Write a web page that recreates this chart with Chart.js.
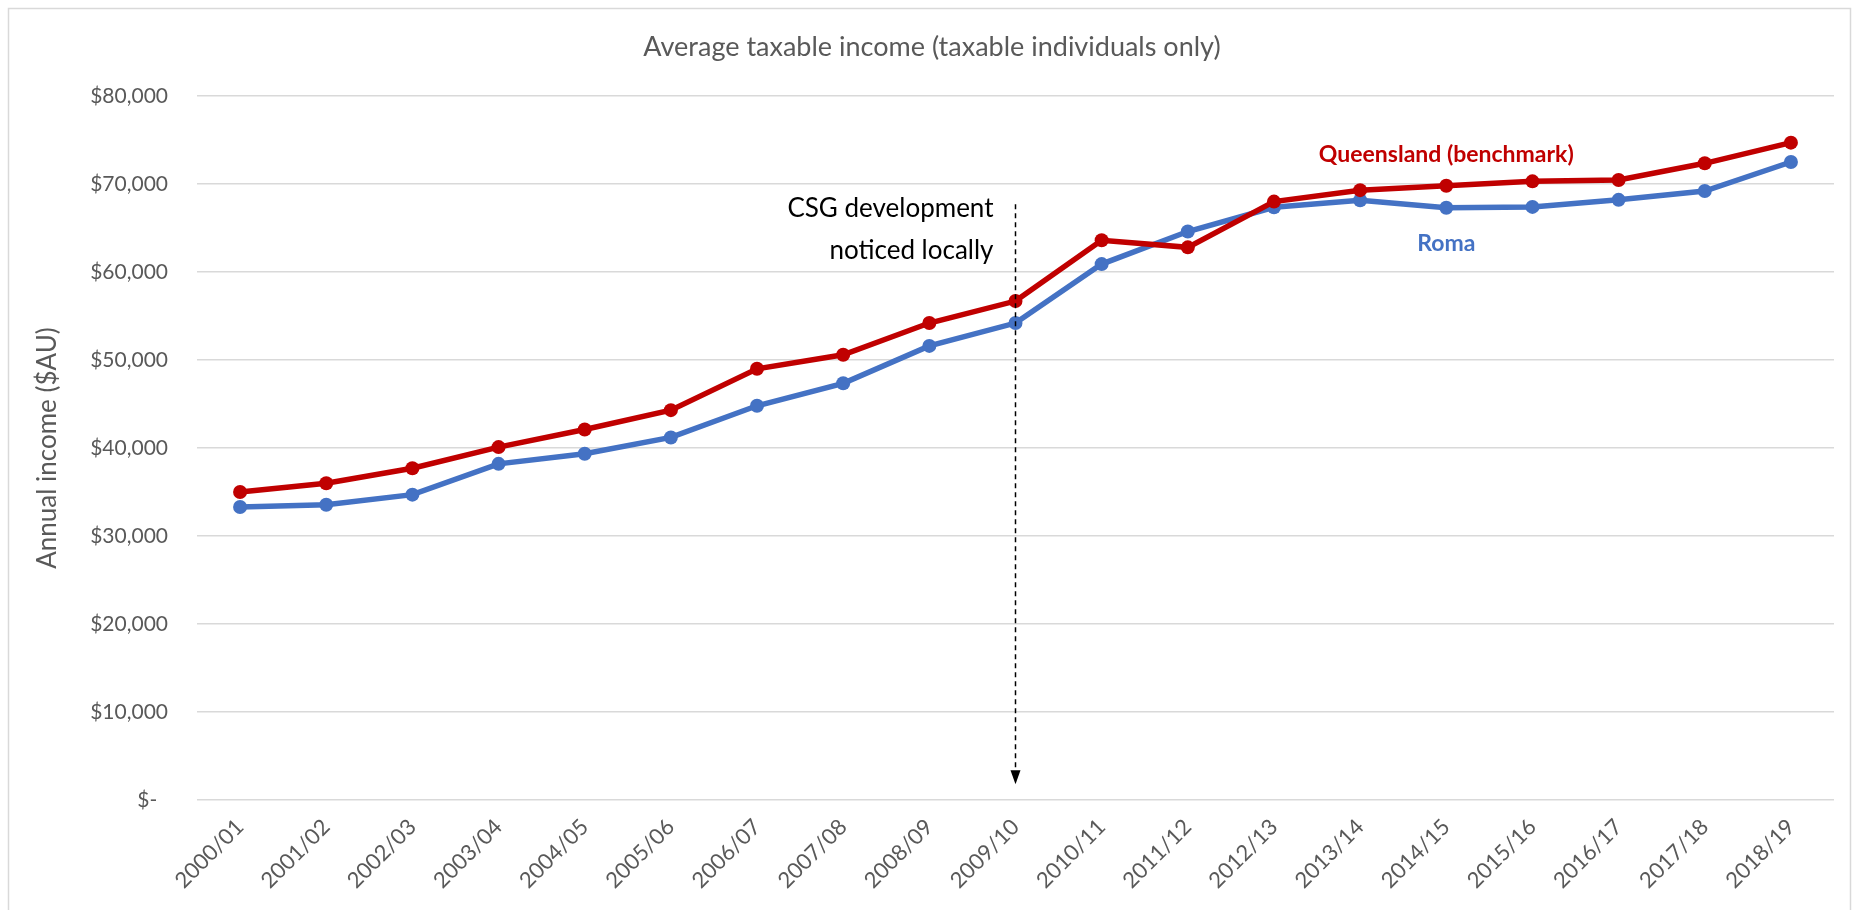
<!DOCTYPE html>
<html>
<head>
<meta charset="utf-8">
<title>Average taxable income</title>
<script src="https://cdn.jsdelivr.net/npm/chart.js@4.4.0/dist/chart.umd.min.js"></script>
<style>
    html, body { margin: 0; padding: 0; background: #fff; }
    #wrap { position: relative; width: 1858px; height: 910px; }
</style>
</head>
<body>
<div id="wrap"><canvas id="incomeChart" width="1858" height="910"></canvas></div>
<script>
// Financial years (x categories)
const years = ['2000/01', '2001/02', '2002/03', '2003/04', '2004/05', '2005/06', '2006/07',
    '2007/08', '2008/09', '2009/10', '2010/11', '2011/12', '2012/13', '2013/14',
    '2014/15', '2015/16', '2016/17', '2017/18', '2018/19'];

// Average taxable income, $AU
const queenslandIncome = [35000, 36000, 37700, 40100, 42100, 44300, 49000, 50600, 54200, 56700,
    63600, 62800, 68000, 69300, 69800, 70300, 70450, 72350, 74700];
const romaIncome = [33300, 33550, 34700, 38200, 39350, 41200, 44800, 47350, 51600, 54200,
    60900, 64600, 67350, 68150, 67300, 67400, 68200, 69200, 72500];

// y axis ticks
const yTicks = [0, 10000, 20000, 30000, 40000, 50000, 60000, 70000, 80000];

// CSG annotation: category, top and bottom of the arrow (in $)
const csgYear = '2009/10';
const csgArrowTop = 67700;
const csgArrowTip = 1800;
const csgText = ['CSG development', 'noticed locally'];

// series label placement (category)
const labelYear = '2014/15';

const FONT = 'Lato, "Open Sans", sans-serif';
const RED = '#C00000';
const BLUE = '#4472C4';

Chart.defaults.font.family = FONT;
Chart.defaults.color = '#595959';

// white background + light frame
const framePlugin = {
    id: 'frame',
    beforeDraw(chart) {
        const ctx = chart.ctx;
        ctx.save();
        ctx.fillStyle = '#fff';
        ctx.fillRect(0, 0, chart.width, chart.height);
        ctx.strokeStyle = '#d9d9d9';
        ctx.lineWidth = 1.5;
        ctx.strokeRect(8.5, 8.5, chart.width - 16, chart.height + 20);
        ctx.restore();
    }
};

// dashed arrow, note text and series labels
const notesPlugin = {
    id: 'notes',
    afterDatasetsDraw(chart) {
        const { ctx, scales: { x, y } } = chart;
        const px = x.getPixelForValue(years.indexOf(csgYear));
        const top = y.getPixelForValue(csgArrowTop);
        const tip = y.getPixelForValue(csgArrowTip);

        ctx.save();
        ctx.strokeStyle = '#000';
        ctx.lineWidth = 1.5;
        ctx.setLineDash([5, 4]);
        ctx.beginPath();
        ctx.moveTo(px, top);
        ctx.lineTo(px, tip - 12);
        ctx.stroke();
        ctx.setLineDash([]);
        ctx.fillStyle = '#000';
        ctx.beginPath();
        ctx.moveTo(px - 5, tip - 14);
        ctx.lineTo(px + 5, tip - 14);
        ctx.lineTo(px, tip);
        ctx.closePath();
        ctx.fill();

        ctx.font = '26px ' + FONT;
        ctx.textAlign = 'right';
        ctx.textBaseline = 'middle';
        ctx.fillText(csgText[0], px - 22, top + 4);
        ctx.fillText(csgText[1], px - 22, top + 46);

        // series labels
        const li = years.indexOf(labelYear);
        const lx = x.getPixelForValue(li);
        ctx.textAlign = 'center';
        ctx.font = 'bold 23px ' + FONT;
        ctx.fillStyle = RED;
        ctx.fillText('Queensland (benchmark)', lx, y.getPixelForValue(queenslandIncome[li]) - 31);
        ctx.fillStyle = BLUE;
        ctx.fillText('Roma', lx, y.getPixelForValue(romaIncome[li]) + 36);
        ctx.restore();
    }
};

const ctx = document.getElementById('incomeChart').getContext('2d');

new Chart(ctx, {
    type: 'line',
    data: {
        labels: years,
        datasets: [
            {
                label: 'Queensland (benchmark)',
                data: queenslandIncome,
                borderColor: RED,
                backgroundColor: RED,
                borderWidth: 5.5,
                pointRadius: 7,
                pointBorderWidth: 0,
                pointBackgroundColor: RED,
                tension: 0,
                order: 0
            },
            {
                label: 'Roma',
                data: romaIncome,
                borderColor: BLUE,
                backgroundColor: BLUE,
                borderWidth: 5.5,
                pointRadius: 7,
                pointBorderWidth: 0,
                pointBackgroundColor: BLUE,
                tension: 0,
                order: 1
            }
        ]
    },
    options: {
        responsive: false,
        animation: false,
        layout: {
            padding: { left: 30, right: 24, top: 0, bottom: 0 }
        },
        plugins: {
            legend: { display: false },
            tooltip: { enabled: false },
            title: {
                display: true,
                text: 'Average taxable income (taxable individuals only)',
                color: '#595959',
                font: { family: FONT, size: 27, weight: 'normal' },
                padding: { top: 30.8, bottom: 32.8 }
            }
        },
        scales: {
            x: {
                offset: true,
                grid: { display: false, drawTicks: false },
                border: { display: false },
                ticks: {
                    color: '#595959',
                    font: { size: 22 },
                    minRotation: 45,
                    maxRotation: 45,
                    autoSkip: false,
                    padding: 14
                },
                afterFit(scale) { scale.height = 110; }
            },
            y: {
                min: 0,
                max: 80000,
                afterBuildTicks(scale) {
                    scale.ticks = yTicks.map(v => ({ value: v }));
                },
                grid: { color: '#d9d9d9', lineWidth: 1.5, drawTicks: false },
                border: { display: false },
                ticks: {
                    color: '#595959',
                    font: { size: 21 },
                    padding: 29,
                    callback: function (value) {
                        return value === 0 ? '$-  ' : '$' + value.toLocaleString('en-US');
                    }
                },
                title: {
                    display: true,
                    text: 'Annual income ($AU)',
                    color: '#595959',
                    font: { size: 26 },
                    padding: { top: 2, bottom: 2 }
                },
                afterFit(scale) { scale.width = 167; }
            }
        }
    },
    plugins: [framePlugin, notesPlugin]
});
</script>
</body>
</html>
